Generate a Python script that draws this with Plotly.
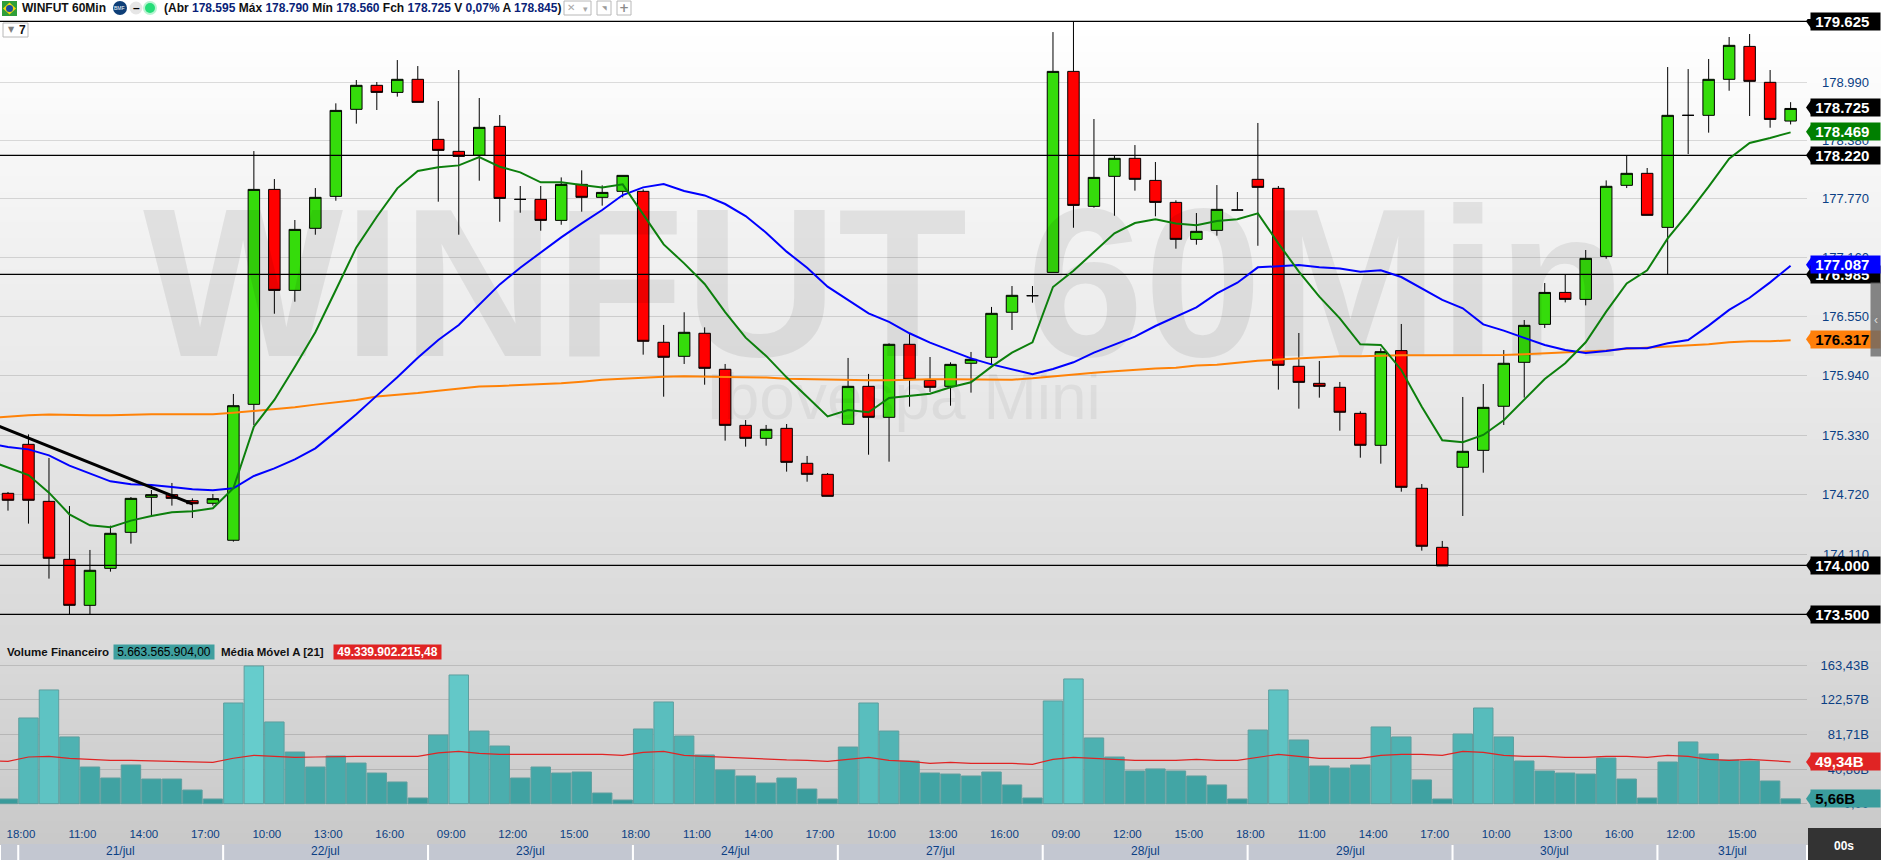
import plotly.graph_objects as go

W, H = 1881, 860

# ---------- data ----------
opens = [174750,175256,174667,174068,173593,173975,174347,174709,174736,174674,174647,174265,175669,177889,176846,177487,
         177817,178716,178964,178891,179026,178406,178282,178241,178540,177786,177786,177569,177941,177807,177869,177869,
         176310,176165,176403,176031,175452,175318,175421,175060,174946,175463,175855,175535,176289,175917,175855,176093,
         176155,176620,176791,177032,179108,177714,178024,178210,177982,177755,177373,177466,177676,177993,177900,176062,
         175886,175845,175576,175246,176224,174802,174192,175019,175194,175649,176103,176495,176825,176753,177197,177931,
         178055,177497,178654,178654,179026,179366,178995,178595]
highs = [174764,175359,175115,174619,174165,174416,174712,174784,174857,174698,174743,175776,178285,177996,177573,177903,
         178778,179019,178998,179225,179163,178802,179122,178833,178657,177924,177924,178013,178086,177931,178034,177889,
         176489,176620,176464,176086,175507,175456,175466,175136,174960,176148,175983,176299,176403,176158,176103,176210,
         176675,176891,176891,179514,179625,178616,178241,178347,178172,177776,177645,177934,177862,178575,177924,176406,
         176117,175900,175597,176248,176499,174846,174258,175745,175879,176230,176540,176922,177005,177263,177982,178241,
         178110,179153,179132,179236,179463,179494,179122,178790]
lows = [174571,174437,173869,173500,173500,173941,174230,174526,174623,174495,174623,174251,175455,176605,176729,177421,
        177772,178568,178709,178847,178788,177762,177421,177979,177555,177648,177462,177524,177659,177721,177807,176182,
        175748,176086,175872,175294,175232,175242,174974,174870,174719,175463,175149,175077,175645,175797,175655,175790,
        176075,176437,176719,177032,177493,177700,177617,177876,177611,177277,177318,177411,177676,177307,175821,175624,
        175738,175397,175118,175056,174767,174158,174000,174516,174963,175456,175738,176458,176722,176691,177173,177903,
        177621,177011,178254,178475,178908,178647,178526,178560]
closes = [174678,174678,174079,173593,173955,174337,174698,174736,174698,174643,174695,175655,177889,176846,177476,177807,
          178705,178964,178891,179026,178788,178292,178230,178530,177796,177786,177569,177941,177807,177858,178034,176320,
          176155,176413,176041,175452,175318,175411,175070,174946,174719,175855,175535,176289,175927,175845,176082,176134,
          176609,176795,176791,179108,177724,178013,178210,177993,177755,177373,177456,177683,177676,177910,176072,175896,
          175855,175587,175246,176213,174812,174203,174000,175184,175638,176093,176485,176825,176753,177177,177921,178055,
          177621,178654,178654,179026,179377,179005,178612,178725]

ma_fast = [175094,175015,174939,174757,174533,174420,174399,174468,174516,174554,174564,174595,174802,175439,175714,176058,176413,
           176850,177290,177607,177900,178079,178117,178137,178223,178123,178065,177962,177962,177934,177910,177941,177624,
           177321,177125,176912,176622,176358,176169,175948,175748,175545,175611,175587,175735,175759,175779,175845,175897,
           176058,176203,176310,176881,177049,177246,177435,177542,177580,177538,177518,177562,177580,177641,177332,177039,
           176781,176557,176289,176282,176024,175645,175297,175277,175353,175504,175714,175931,176093,176310,176626,176918,
           177053,177383,177641,177917,178206,178368,178420,178478]
ma_mid = [175266,175229,175204,175142,175036,174956,174874,174843,174836,174815,174791,174781,174802,174929,175008,175101,175215,
          175387,175566,175759,175948,176151,176334,176489,176695,176908,177080,177235,177394,177538,177676,177831,177910,
          177945,177872,177827,177738,177614,177442,177246,177080,176884,176746,176609,176520,176403,176306,176224,176144,
          176082,176031,175979,176034,176103,176203,176286,176368,176478,176575,176671,176815,176925,177084,177094,177108,
          177084,177073,177039,177053,176984,176863,176747,176661,176495,176430,176358,176282,176230,176199,176220,176248,
          176248,176299,176334,176482,176644,176770,176929,177101]
ma_slow = [175528,175545,175556,175563,175556,175556,175556,175563,175566,175566,175566,175566,175583,175600,175618,175638,175666,
           175687,175714,175749,175766,175786,175810,175831,175852,175859,175866,175876,175886,175903,175924,175934,175945,
           175955,175959,175959,175952,175948,175945,175934,175928,175928,175917,175917,175917,175924,175928,175928,175928,
           175921,175924,175938,175959,175979,175996,176010,176027,176038,176048,176069,176079,176100,176120,176131,176141,
           176155,176165,176165,176172,176175,176175,176175,176175,176175,176179,176186,176196,176206,176217,176224,176244,
           176255,176268,176282,176289,176310,176320,176320,176330]

volumes = [5.5,101.2,134.3,78.8,43.3,30.3,45.7,29.1,29.1,16.1,5.5,118.9,162.6,96.5,61.0,43.3,56.3,48.0,36.2,25.6,6.7,
           81.1,152.0,85.8,68.1,30.3,43.3,36.2,37.4,12.6,4.3,88.2,120.1,79.9,57.5,39.8,32.7,24.4,30.3,17.3,5.5,
           66.9,118.9,85.8,50.4,36.2,35.0,32.7,37.4,22.1,6.7,121.3,147.3,77.6,55.1,38.6,41.0,38.6,32.7,22.1,5.5,
           87.0,134.3,75.2,44.5,42.1,45.7,90.6,78.8,28.0,5.5,82.3,113.0,78.8,50.4,38.6,36.2,35.0,53.9,29.1,6.7,
           49.2,72.9,58.7,51.6,50.4,26.8,5.66]
vol_ma = [50.5,50.0,55.1,55.9,53.6,52.0,51.2,51.2,50.4,50.0,48.8,48.8,53.6,57.1,55.9,54.7,55.1,55.9,55.9,55.9,55.9,55.9,
          59.9,61.8,59.5,58.3,58.3,58.3,58.3,58.3,58.3,57.1,60.6,61.8,57.1,55.9,54.7,53.6,52.4,51.6,51.2,50.0,
          52.4,54.7,51.2,50.0,47.6,48.8,47.6,47.6,47.6,46.5,52.4,54.7,53.6,52.4,51.2,51.2,51.2,52.4,51.2,51.2,
          54.7,58.3,55.9,53.6,53.6,53.6,57.1,58.3,58.3,57.1,61.8,60.6,57.1,55.9,55.9,54.7,54.7,55.9,55.9,54.7,
          57.1,55.9,52.4,51.2,52.4,51.2,49.34]

# The source chart's price scale is slightly logarithmic; values above were read on a
# straight calibration through its two end lines, so ticks and levels sit where they read on it.
price_levels = [179625, 178241, 177011, 174006, 173500]
trend_prices = [175490, 174640]
price_ticks = [178995, 178396, 177797, 177187, 176578, 175969, 175349, 174740, 174120]
price_tick_text = ["178.990", "178.380", "177.770", "177.160", "176.550", "175.940", "175.330", "174.720", "174.110"]
vol_ticks = [0, 40.86, 81.71, 122.57, 163.43]
vol_tick_text = ["0,00", "40,86B", "81,71B", "122,57B", "163,43B"]

time_idx = [0,3,6,9,12,15,18,21,24,27,30,33,36,39,42,45,48,51,54,57,60,63,66,69,72,75,78,81,84]
time_text = ["18:00","11:00","14:00","17:00","10:00","13:00","16:00","09:00","12:00","15:00","18:00","11:00","14:00","17:00",
             "10:00","13:00","16:00","09:00","12:00","15:00","18:00","11:00","14:00","17:00","10:00","13:00","16:00","12:00","15:00"]
day_labels = ["", "21/jul", "22/jul", "23/jul", "24/jul", "27/jul", "28/jul", "29/jul", "30/jul", "31/jul"]

# ---------- geometry helpers (pixels -> paper) ----------
def fx(x): return x / W
def fy(y): return 1 - y / H

PLOT_R = 1807
XR = [-0.39, 87.8]
bars = list(range(len(opens)))
ma_x = [-1] + bars
shapes, ann = [], []

# background gradient
def grey(v): return f"rgb({v},{v},{v})"
def add_rect(x0, y0, x1, y1, fill, layer="below", line=None):
    shapes.append(dict(type="rect", xref="paper", yref="paper", x0=fx(x0), x1=fx(x1), y0=fy(y0), y1=fy(y1),
                       fillcolor=fill, line=line or dict(width=0), layer=layer))
n = 40
for i in range(n):
    y0, y1 = 21 + (640 - 21) * i / n, 21 + (640 - 21) * (i + 1) / n
    add_rect(0, y0, W, y1 + 1, grey(round(255 - (255 - 217) * (i + .5) / n)))
n = 18
for i in range(n):
    y0, y1 = 640 + (844 - 640) * i / n, 640 + (844 - 640) * (i + 1) / n
    add_rect(0, y0, W, y1 + 1, grey(round(219 - (219 - 200) * (i + .5) / n)))

# day strips
edges = [-0.39, 0.5, 10.5, 20.5, 30.5, 40.5, 50.5, 60.5, 70.5, 80.5, 87.8]
for k, lab in enumerate(day_labels):
    shapes.append(dict(type="rect", xref="x2", yref="paper", x0=edges[k] + .05, x1=edges[k + 1] - .05,
                       y0=fy(860), y1=fy(844), fillcolor="#c3c7d1", line=dict(width=0), layer="below"))
    if lab:
        ann.append(dict(x=(edges[k] + edges[k + 1]) / 2, y=fy(851), xref="x2", yref="paper", text=lab, showarrow=False,
                        xanchor="center", yanchor="middle",
                        font=dict(family="Liberation Sans", size=12, color="#0b3f84")))

# header
add_rect(2, 1, 17, 16, "#2f9e3a", "above")
shapes.append(dict(type="path", xref="paper", yref="paper", layer="above", line=dict(width=0), fillcolor="#f5d90a",
                   path=f"M {fx(3)} {fy(8.5)} L {fx(9.5)} {fy(2.5)} L {fx(16)} {fy(8.5)} L {fx(9.5)} {fy(14.5)} Z"))
def circle(cx, cy, r, fill):
    shapes.append(dict(type="circle", xref="paper", yref="paper", x0=fx(cx - r), x1=fx(cx + r), y0=fy(cy + r), y1=fy(cy - r),
                       fillcolor=fill, line=dict(width=0), layer="above"))
circle(9.5, 8.5, 3.5, "#1d4f9c")
circle(120, 8, 7, "#0e3f78")
circle(136, 8, 6.5, "#e6e6e6")
circle(150, 8, 7, "#b9f3d2")
circle(150, 8, 5, "#25dd78")
def txt(x, y, text, size=12, color="#000000", anchor="left", family="Liberation Sans", **kw):
    ann.append(dict(x=fx(x), y=fy(y), xref="paper", yref="paper", xanchor=anchor, yanchor="middle", text=text,
                    showarrow=False, font=dict(family=family, size=size, color=color), **kw))
txt(120, 8, "BMF", 5, "#ffffff", "center")
txt(136, 8, "<b>–</b>", 12, "#000000", "center")
txt(20, 8, "<b>WINFUT 60Min</b>", 12, "#111111")
NAVY = "#0a1f78"
def v(s): return f"<span style='color:{NAVY}'>{s}</span>"
txt(162, 8, "<b>(Abr " + v("178.595") + " Máx " + v("178.790") + " Mín " + v("178.560") + " Fch " + v("178.725")
    + " V " + v("0,07%") + " A " + v("178.845") + ")</b>", 12, "#111111")
for x0, x1 in [(564, 591), (597, 611), (617, 631), (3, 28)]:
    y0, y1 = (1, 15) if x0 > 100 else (23, 37)
    shapes.append(dict(type="rect", xref="paper", yref="paper", x0=fx(x0), x1=fx(x1), y0=fy(y1), y1=fy(y0),
                       fillcolor="rgba(255,255,255,0.7)", line=dict(color="#b8b8b8", width=1), layer="above"))
txt(571, 8, "✕", 10, "#a8a8a8", "center", "DejaVu Sans")
txt(585, 9, "▾", 9, "#a8a8a8", "center", "DejaVu Sans")
txt(604, 8, "◥", 6, "#9a9a9a", "center", "DejaVu Sans")
txt(624, 8, "<b>+</b>", 12, "#8a8a8a", "center", "DejaVu Sans")
txt(11, 30, "▼", 8, "#7d7d7d", "center", "DejaVu Sans")
txt(22, 30, "<b>7</b>", 12, "#111111", "center")

# volume legend
txt(5, 652, "<b>Volume Financeiro</b>", 11.5, "#111111")
txt(164, 652, "5.663.565.904,00", 12, "#000000", "center", bgcolor="#3f9f9f", width=100, height=14, borderpad=0)
txt(219, 652, "<b>Média Móvel A [21]</b>", 11.5, "#111111")
txt(387.5, 652, "<b>49.339.902.215,48</b>", 12, "#ffffff", "center", bgcolor="#e02424", width=107, height=14, borderpad=0)

# right tags
def tag(value, text, bg, fg, yref="y"):
    shapes.append(dict(type="path", xref="paper", yref=yref, xsizemode="pixel", ysizemode="pixel", xanchor=fx(1811), yanchor=value,
                       path="M -5 0 L 1 8.5 L 1 -8.5 Z", fillcolor=bg, line=dict(width=0), layer="above"))
    ann.append(dict(x=fx(1845.5), y=value, xref="paper", yref=yref, text=f"<b>&nbsp;{text}</b>", showarrow=False,
                    xanchor="center", yanchor="middle",
                    width=69, height=17, borderpad=0, bgcolor=bg, align="left",
                    font=dict(family="Liberation Sans", size=15, color=fg)))
tag(179625, "179.625", "#000000", "#ffffff")
tag(178241, "178.220", "#000000", "#ffffff")
tag(178485, "178.469", "#007f00", "#ffffff")
tag(178736, "178.725", "#000000", "#ffffff")
tag(177011, "176.985", "#000000", "#ffffff")
tag(177111, "177.087", "#0000ff", "#ffffff")
tag(176341, "176.317", "#ff7f0a", "#000000")
tag(174006, "174.000", "#000000", "#ffffff")
tag(173500, "173.500", "#000000", "#ffffff")
tag(5.66, "5,66B", "#3a9d9d", "#000000", "y2")
tag(49.34, "49,34B", "#e02424", "#ffffff", "y2")

# countdown box and scrollbar handle
add_rect(1808, 828, W, 860, "#333333", "above")
txt(1844, 846, "<b>00s</b>", 12, "#ffffff", "center")
ann.append(dict(x=fx(1876), y=fy(319.5), xref="paper", yref="paper", xanchor="center", yanchor="middle", text="‹",
                showarrow=False, width=10, height=73, borderpad=0, bgcolor="rgba(105,105,105,0.8)",
                font=dict(family="Liberation Sans", size=12, color="#dddddd")))

# ---------- traces ----------
traces = [
    go.Scatter(x=[42.8], y=[176715], mode="text", text=["<b>WINFUT 60Min</b>"], textposition="middle center",
               textfont=dict(family="Liberation Sans", size=212, color="rgba(0,0,0,0.075)"), hoverinfo="skip"),
    go.Scatter(x=[43.7], y=[175680], mode="text", text=["Ibovespa Mini"], textposition="middle center",
               textfont=dict(family="Liberation Sans", size=64, color="rgba(0,0,0,0.05)"), hoverinfo="skip"),
    go.Candlestick(x=bars, open=opens, high=highs, low=lows, close=closes, whiskerwidth=0,
                   increasing=dict(fillcolor="#35dc0b", line=dict(color="#000000", width=1)),
                   decreasing=dict(fillcolor="#ff0000", line=dict(color="#000000", width=1))),
]
for lvl in price_levels:
    traces.append(go.Scatter(x=[XR[0], XR[1]], y=[lvl, lvl], mode="lines", line=dict(color="#000000", width=1.2), hoverinfo="skip"))
traces += [
    go.Scatter(x=ma_x, y=ma_slow, mode="lines", line=dict(color="#ff8207", width=2)),
    go.Scatter(x=ma_x, y=ma_mid, mode="lines", line=dict(color="#0000ff", width=2)),
    go.Scatter(x=ma_x, y=ma_fast, mode="lines", line=dict(color="#0c7f0c", width=2)),
    go.Scatter(x=[-1, 9], y=trend_prices, mode="lines", line=dict(color="#000000", width=3)),
    go.Bar(x=bars, y=volumes, xaxis="x2", yaxis="y2",
           marker=dict(color=volumes, cmin=0, cmax=163.43, colorscale=[[0, "#379999"], [1, "#66cccc"]],
                       line=dict(color="#5f9f9f", width=1))),
    go.Scatter(x=ma_x, y=vol_ma, mode="lines", xaxis="x2", yaxis="y2", line=dict(color="#e02424", width=1.2)),
]

fig = go.Figure(traces)
axis_font = dict(family="Liberation Sans", size=13, color="#0b3f84")
fig.update_layout(
    width=W, height=H, margin=dict(l=0, r=0, t=0, b=0), autosize=False, showlegend=False,
    paper_bgcolor="#ffffff", plot_bgcolor="rgba(0,0,0,0)", bargap=0.05, boxgap=0.2,
    hovermode=False, shapes=shapes, annotations=ann,
    xaxis=dict(domain=[0, PLOT_R / W], range=XR, anchor="y", showgrid=False, zeroline=False, showticklabels=False,
               ticks="", rangeslider=dict(visible=False), showline=False),
    xaxis2=dict(domain=[0, PLOT_R / W], range=XR, anchor="y2", showgrid=False, zeroline=False, ticks="",
                tickvals=[i + 0.63 for i in time_idx], ticktext=time_text, tickangle=0,
                tickfont=dict(family="Liberation Sans", size=11.5, color="#0b3f84"), showline=False),
    yaxis=dict(domain=[fy(640), fy(19)], range=[173235, 179649], anchor="free", position=1869 / W, side="left",
               tickvals=price_ticks, ticktext=price_tick_text, tickfont=axis_font, ticks="",
               gridcolor="rgba(0,0,0,0.13)", gridwidth=1, zeroline=False, showline=False),
    yaxis2=dict(domain=[fy(825), fy(640)], range=[-25.2, 193.3], anchor="free", position=1869 / W, side="left",
                tickvals=vol_ticks, ticktext=vol_tick_text, tickfont=axis_font, ticks="",
                gridcolor="rgba(0,0,0,0.13)", gridwidth=1, zeroline=False, showline=False),
)

fig.write_html("out.html", config=dict(displayModeBar=False),
               post_script="document.body.style.margin='0';document.body.style.overflow='hidden';")
